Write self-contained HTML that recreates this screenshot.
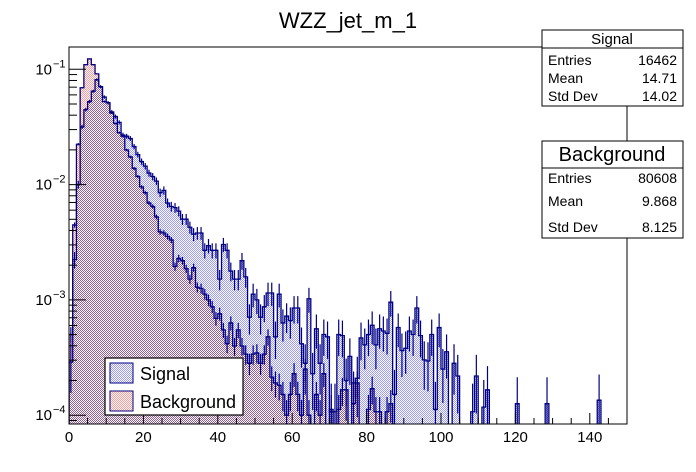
<!DOCTYPE html>
<html><head><meta charset="utf-8"><style>
body{margin:0;background:#fff;}
svg{display:block;font-family:"Liberation Sans",sans-serif;}
</style></head><body>
<svg id="c" width="696" height="472" viewBox="0 0 696 472" xmlns="http://www.w3.org/2000/svg">
<defs>
<pattern id="pb" width="2" height="2" patternUnits="userSpaceOnUse"><rect width="2" height="2" fill="#fff"/><rect x="0" y="0" width="1" height="1" fill="#ff9999"/><rect x="1" y="1" width="1" height="1" fill="#ff9999"/></pattern>
<pattern id="ps" width="2" height="2" patternUnits="userSpaceOnUse"><rect width="2" height="2" fill="#fff"/><rect x="0" y="0" width="1" height="1" fill="#9999ff"/><rect x="1" y="1" width="1" height="1" fill="#9999ff"/></pattern>
<clipPath id="fr"><rect x="69" y="47" width="558" height="377"/></clipPath>
</defs>
<text x="348" y="28" font-size="22" text-anchor="middle">WZZ_jet_m_1</text>
<g id="plot" clip-path="url(#fr)"></g>
<rect x="69" y="47" width="558" height="377" fill="none" stroke="#000" stroke-width="1"/>
<g id="axes"></g>
<g>
<rect x="105" y="358" width="138" height="57" fill="#fff" stroke="#000" stroke-width="1.2"/>
<rect x="110" y="363" width="23" height="20" fill="url(#ps)" stroke="#000080"/>
<text x="140" y="380" font-size="18">Signal</text>
<rect x="110" y="391" width="23" height="20" fill="url(#pb)" stroke="#000080"/>
<text x="140" y="408" font-size="18">Background</text>
</g>
<line x1="627" y1="106" x2="627" y2="141" stroke="#000"/>
<g font-size="14">
<rect x="542" y="30" width="141" height="76" fill="#fff" stroke="#000"/>
<line x1="542" y1="48" x2="683" y2="48" stroke="#000"/>
<text x="612" y="44" font-size="15" text-anchor="middle">Signal</text>
<text x="548" y="65">Entries</text><text x="677" y="65" text-anchor="end">16462</text>
<text x="548" y="83">Mean</text><text x="677" y="83" text-anchor="end">14.71</text>
<text x="548" y="101">Std Dev</text><text x="677" y="101" text-anchor="end">14.02</text>
</g>
<g font-size="14">
<rect x="542" y="141" width="141" height="97" fill="#fff" stroke="#000"/>
<line x1="542" y1="168" x2="683" y2="168" stroke="#000"/>
<text x="612" y="161" font-size="20" text-anchor="middle">Background</text>
<text x="548" y="183">Entries</text><text x="677" y="183" text-anchor="end">80608</text>
<text x="548" y="206">Mean</text><text x="677" y="206" text-anchor="end">9.868</text>
<text x="548" y="232">Std Dev</text><text x="677" y="232" text-anchor="end">8.125</text>
</g>
</svg>
<script>
const xTicks=[0,20,40,60,80,100,120,140];
const yDecades=[-1,-2,-3,-4];
const signalEntries=16462;
const backgroundEntries=80608;
const signalLog10=[-3.54,-2.65,-2.0,-1.5,-1.35,-1.28,-1.19,-1.09,-1.15,-1.24,-1.29,-1.37,-1.41,-1.46,-1.57,-1.58,-1.6,-1.67,-1.74,-1.8,-1.84,-1.9,-1.93,-1.97,-2.07,-2.05,-2.16,-2.19,-2.2,-2.23,-2.3,-2.3,-2.37,-2.43,-2.42,-2.42,-2.57,-2.53,-2.57,-2.57,-2.82,-2.52,-2.57,-2.75,-2.82,-2.82,-2.66,-2.8,-3.15,-2.95,-3.0,-3.15,-3.06,-2.94,-2.94,-3.32,-2.95,-3.2,-3.14,-3.18,-3.07,-3.07,-3.38,-3.55,-2.99,-3.64,-3.25,-3.55,-3.3,-3.32,-3.97,-3.97,-3.3,-3.31,-3.7,-3.49,-3.9,-3.68,-3.33,-3.39,-3.3,-3.22,-3.39,-3.25,-3.27,-3.29,-3.02,-3.82,-3.24,-3.44,-3.42,-3.27,-3.3,-3.07,-3.31,-3.52,-3.53,-3.3,-3.95,-3.24,-3.6,-3.45,null,-3.55,-3.66,null,null,null,-3.97,-3.66,null,-3.93,-3.78,null,null,null,null,null,null,null,-3.9,null,null,null,null,null,null,null,-3.9,null,null,null,null,null,null,null,null,null,null,null,null,null,-3.87];
const backgroundLog10=[-3.3,-2.35,-1.65,-1.16,-0.96,-0.91,-0.96,-1.04,-1.15,-1.28,-1.29,-1.38,-1.47,-1.55,-1.58,-1.7,-1.76,-1.86,-1.93,-2.02,-2.07,-2.16,-2.19,-2.28,-2.41,-2.42,-2.45,-2.48,-2.71,-2.64,-2.66,-2.73,-2.82,-2.72,-2.89,-2.9,-2.95,-3.0,-3.06,-3.16,-3.12,-3.26,-3.38,-3.2,-3.4,-3.26,-3.4,-3.47,-3.55,-3.47,-3.46,-3.55,-3.47,-3.32,-3.67,-3.72,-3.74,-3.82,-4.0,-3.82,-3.64,-3.82,-4.0,-3.6,-4.0,null,-3.82,-4.0,-3.64,null,-3.95,null,-3.95,-3.78,-3.78,null,-3.72,-3.72,null,null,-3.95,-3.77,-3.97,-3.97,null,-3.97,-3.9];
const NB=150;
const X0=69,X1=627,Y0=47,Y1=424;
function sx(v){return X0+(v/150)*(X1-X0);}
function sy(lg){return 69.3-(lg+1)*115.3;}
const NS="http://www.w3.org/2000/svg";
function mk(tag,attrs,parent){const e=document.createElementNS(NS,tag);for(const k in attrs)e.setAttribute(k,attrs[k]);parent.appendChild(e);return e;}
const plot=document.getElementById('plot');
function yOf(arr,i){const v=arr[i];return (v===null||v===undefined)?Y1+2:sy(v);}
function stepPath(arr){let d='M'+sx(0)+','+(Y1+2);for(let i=0;i<NB;i++){const y=yOf(arr,i);d+=' L'+sx(i)+','+y+' L'+sx(i+1)+','+y;}d+=' L'+sx(NB)+','+(Y1+2);return d;}
const bgFill=mk('path',{d:stepPath(backgroundLog10)+' Z',fill:'url(#pb)'},plot);


const sgFill=mk('path',{d:stepPath(signalLog10)+' Z',fill:'url(#ps)',style:'mix-blend-mode:multiply'},plot);


function drawSeries(arr,entries,name){
  const g=mk('g',{},plot);
  
  
  const ln=mk('path',{d:stepPath(arr),fill:'none',stroke:'#000080','stroke-width':1.3},g);
  
  
  for(let i=0;i<arr.length;i++){
    const v=arr[i];if(v===null||v===undefined)continue;
    const val=Math.pow(10,v);const err=Math.sqrt(val*entries)/entries;
    const hi=sy(Math.log10(val+err));const lo=val-err>1e-6?sy(Math.log10(val-err)):Y1;
    const cx=sx(i+0.5);
    const eb=mk('line',{x1:cx,x2:cx,y1:hi,y2:Math.min(lo,Y1),stroke:'#000080','stroke-width':1.2},g);
    
    
  }
}
drawSeries(backgroundLog10,backgroundEntries,'background');
drawSeries(signalLog10,signalEntries,'signal');
const axes=document.getElementById('axes');
for(let v=0;v<=150;v+=5){
  const major=v%20===0;
  const t=mk('line',{x1:sx(v),x2:sx(v),y1:Y1,y2:Y1-(major?11:6),stroke:'#000'},axes);
  
  
}
xTicks.forEach(v=>{
  const t=mk('text',{x:sx(v),y:442,'font-size':15,'text-anchor':'middle'},axes);
  t.textContent=v;
  
  
});
for(let d=-5;d<=-1;d++){
  for(let m=1;m<10;m++){
    const lg=d+Math.log10(m);const y=sy(lg);
    if(y<Y0||y>Y1)continue;
    const t=mk('line',{x1:X0,x2:X0+(m===1?17:8),y1:y,y2:y,stroke:'#000'},axes);
    
    
  }
}
yDecades.forEach(d=>{
  const t=mk('text',{x:52,y:sy(d)+5,'font-size':15,'text-anchor':'end'},axes);
  t.textContent='10';
  
  
  const s=mk('text',{x:53,y:sy(d)-2,'font-size':11},axes);
  s.textContent='\u2212'+(-d);
  
  
});
</script>
</body></html>
